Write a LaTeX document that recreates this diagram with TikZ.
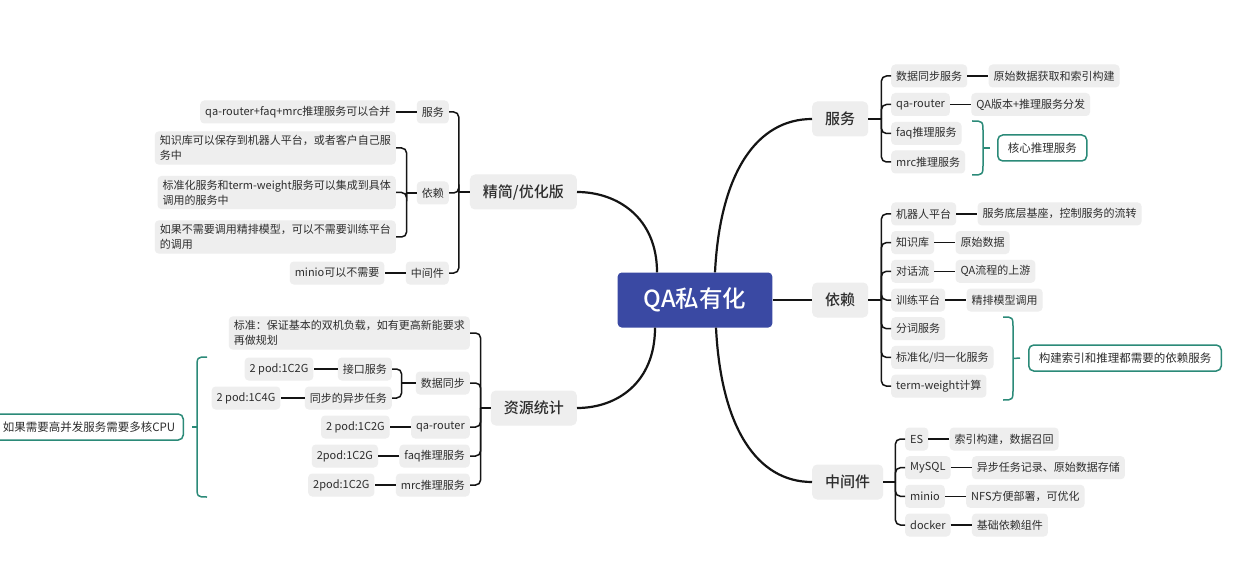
\documentclass[tikz,border=0pt]{standalone}
\usepackage{fontspec}
\setmainfont{Noto Sans CJK SC}
\newfontfamily\topicfont{Noto Sans CJK SC Medium}
\usetikzlibrary{positioning}
\definecolor{rootBlue}{RGB}{58,73,163}
\definecolor{noteTeal}{RGB}{43,138,120}
\definecolor{boxGray}{RGB}{238,238,238}
\definecolor{textDark}{RGB}{45,45,45}
\definecolor{lineBlack}{RGB}{20,20,20}
\tikzset{
  rootbox/.style={fill=rootBlue, text=white, rounded corners=4pt, minimum height=55pt, inner xsep=26pt, font=\topicfont\fontsize{23.5}{26}\selectfont},
  topic/.style={fill=boxGray, text=textDark, rounded corners=5pt, minimum height=35pt, inner xsep=13pt, font=\topicfont\fontsize{15}{18}\selectfont},
  leaf/.style={fill=boxGray, text=textDark, rounded corners=4pt, minimum height=23pt, inner xsep=5pt, inner ysep=4pt, align=left, font=\fontsize{11}{15}\selectfont},
  note/.style={draw=noteTeal, line width=1.5pt, fill=white, text=textDark, rounded corners=5pt, minimum height=26pt, inner xsep=10pt, font=\fontsize{11.5}{14}\selectfont},
  trunk/.style={draw=lineBlack, line width=2.2pt},
  link/.style={draw=lineBlack, line width=1.5pt},
  twig/.style={link, rounded corners=5pt},
  brace/.style={draw=noteTeal, line width=1.5pt}
}
% teal summary brace: ends x, spine x, top y, bottom y, tip
\newcommand{\tealbrace}[5]{%
  \draw[brace] (#1,#3) .. controls (#2,#3) .. (#2,#3+12) -- (#2,#4-12) .. controls (#2,#4) .. (#1,#4);
  \draw[brace] (#2,{(#3+#4)/2}) -- (#5);
}

\begin{document}
\begin{tikzpicture}[x=1pt, y=-1pt, node distance=21pt]
  \path[use as bounding box, fill=white] (0,0) rectangle (1238,569);

  \node[rootbox] (root) at (695,300) {QA私有化};

  % right side
  \node[topic, anchor=west] (fw) at (812,119) {服务};
  \node[topic, anchor=west] (yl) at (812,300) {依赖};
  \node[topic, anchor=west] (zj) at (812,482) {中间件};

  \node[leaf, anchor=west] (fw1) at (891,76) {数据同步服务};
  \node[leaf, right=of fw1] (fw1x) {原始数据获取和索引构建};
  \node[leaf, anchor=west] (fw2) at (891,104.5) {qa-router};
  \node[leaf, right=of fw2] (fw2x) {QA版本+推理服务分发};
  \node[leaf, anchor=west] (fw3) at (891,133.5) {faq推理服务};
  \node[leaf, anchor=west] (fw4) at (891,162) {mrc推理服务};
  \node[note, anchor=west] (fwn) at (997,148) {核心推理服务};

  \node[leaf, anchor=west] (yl1) at (891,213.9) {机器人平台};
  \node[leaf, right=of yl1] (yl1x) {服务底层基座，控制服务的流转};
  \node[leaf, anchor=west] (yl2) at (891,242.6) {知识库};
  \node[leaf, right=of yl2] (yl2x) {原始数据};
  \node[leaf, anchor=west] (yl3) at (891,271.3) {对话流};
  \node[leaf, right=of yl3] (yl3x) {QA流程的上游};
  \node[leaf, anchor=west] (yl4) at (891,300) {训练平台};
  \node[leaf, right=of yl4] (yl4x) {精排模型调用};
  \node[leaf, anchor=west] (yl5) at (891,328.7) {分词服务};
  \node[leaf, anchor=west] (yl6) at (891,357.4) {标准化/归一化服务};
  \node[leaf, anchor=west] (yl7) at (891,386.1) {term-weight计算};
  \node[note, anchor=west, minimum width=189pt] (yln) at (1028,358) {构建索引和推理都需要的依赖服务};

  \node[leaf, anchor=west] (zj1) at (905,439) {ES};
  \node[leaf, right=of zj1] (zj1x) {索引构建，数据召回};
  \node[leaf, anchor=west] (zj2) at (905,467.7) {MySQL};
  \node[leaf, right=of zj2] (zj2x) {异步任务记录、原始数据存储};
  \node[leaf, anchor=west] (zj3) at (905,496.3) {minio};
  \node[leaf, right=of zj3] (zj3x) {NFS方便部署，可优化};
  \node[leaf, anchor=west] (zj4) at (905,525) {docker};
  \node[leaf, right=of zj4] (zj4x) {基础依赖组件};

  % left side
  \node[topic, anchor=east] (jj) at (577,192) {精简/优化版};
  \node[topic, anchor=east] (zy) at (577,408) {资源统计};

  \node[leaf, anchor=east] (jj1) at (449,112) {服务};
  \node[leaf, left=of jj1] (jj1x) {qa-router+faq+mrc推理服务可以合并};
  \node[leaf, anchor=east] (jj2) at (449,193) {依赖};
  \node[leaf, anchor=east] (jj2a) at (396,148) {知识库可以保存到机器人平台，或者客户自己服\\务中};
  \node[leaf, anchor=east] (jj2b) at (396,192.5) {标准化服务和term-weight服务可以集成到具体\\调用的服务中};
  \node[leaf, anchor=east] (jj2c) at (396,237) {如果不需要调用精排模型，可以不需要训练平台\\的调用};
  \node[leaf, anchor=east] (jj3) at (449,273) {中间件};
  \node[leaf, left=of jj3] (jj3x) {minio可以不需要};

  \node[leaf, anchor=east] (zy1) at (470,333) {标准：保证基本的双机负载，如有更高新能要求\\再做规划};
  \node[leaf, anchor=east] (zy2) at (470,383) {数据同步};
  \node[leaf, anchor=east] (zy2a) at (392,369) {接口服务};
  \node[leaf, left=24pt of zy2a] (zy2ax) {2 pod:1C2G};
  \node[leaf, anchor=east] (zy2b) at (392,398) {同步的异步任务};
  \node[leaf, left=24pt of zy2b] (zy2bx) {2 pod:1C4G};
  \node[leaf, anchor=east] (zy3) at (470,427) {qa-router};
  \node[leaf, left=of zy3] (zy3x) {2 pod:1C2G};
  \node[leaf, anchor=east] (zy4) at (470,456) {faq推理服务};
  \node[leaf, left=of zy4] (zy4x) {2pod:1C2G};
  \node[leaf, anchor=east] (zy5) at (470,485) {mrc推理服务};
  \node[leaf, left=of zy5] (zy5x) {2pod:1C2G};
  \node[note, anchor=east, inner xsep=8pt] (zyn) at (184,427) {如果需要高并发服务需要多核CPU};

  % main branches
  \draw[trunk] ([xshift=20pt]root.north) .. controls +(5,-100) and +(-55,0) .. (fw.west);
  \draw[trunk] (root.east) -- (yl.west);
  \draw[trunk] ([xshift=21pt]root.south) .. controls +(5,100) and +(-55,0) .. (zj.west);
  \draw[trunk] ([xshift=-38pt]root.north) .. controls +(0,-55) and +(40,0) .. (jj.east);
  \draw[trunk] ([xshift=-40pt]root.south) .. controls +(0,55) and +(40,0) .. (zy.east);

  % brackets
  \draw[link] (fw.east) -- ++(13,0) coordinate (fwb);
  \foreach \c in {fw1,fw2,fw3,fw4} \draw[twig] (fwb) |- (\c.west);
  \draw[link] (yl.east) -- ++(13,0) coordinate (ylb);
  \foreach \c in {yl1,yl2,yl3,yl4,yl5,yl6,yl7} \draw[twig] (ylb) |- (\c.west);
  \draw[link] (zj.east) -- ++(12,0) coordinate (zjb);
  \foreach \c in {zj1,zj2,zj3,zj4} \draw[twig] (zjb) |- (\c.west);
  \draw[link] (jj.west) -- ++(-11,0) coordinate (jjb);
  \foreach \c in {jj1,jj2,jj3} \draw[twig] (jjb) |- (\c.east);
  \draw[link] (jj2.west) -- ++(-10,0) coordinate (jj2m);
  \foreach \c in {jj2a,jj2b,jj2c} \draw[twig] (jj2m) |- (\c.east);
  \draw[link] (zy.west) -- ++(-10,0) coordinate (zyb);
  \foreach \c in {zy1,zy2,zy3,zy4,zy5} \draw[twig] (zyb) |- (\c.east);
  \draw[link] (zy2.west) -- ++(-14,0) coordinate (zy2m);
  \foreach \c in {zy2a,zy2b} \draw[twig] (zy2m) |- (\c.east);

  % leaf links
  \foreach \a/\b in {fw1/fw1x,fw2/fw2x,yl1/yl1x,yl2/yl2x,yl3/yl3x,yl4/yl4x,zj1/zj1x,zj2/zj2x,zj3/zj3x,zj4/zj4x}
    \draw[link] (\a) -- (\b);
  \foreach \a/\b in {jj1/jj1x,jj3/jj3x,zy2a/zy2ax,zy2b/zy2bx,zy3/zy3x,zy4/zy4x,zy5/zy5x}
    \draw[link] (\a) -- (\b);

  % summaries
  \tealbrace{972}{983}{121}{175}{[xshift=-7pt]fwn.west}
  \tealbrace{1003}{1013}{317}{400}{[xshift=-8pt]yln.west}
  \tealbrace{207}{197}{357}{497}{[xshift=8pt]zyn.east}
\end{tikzpicture}
\end{document}
